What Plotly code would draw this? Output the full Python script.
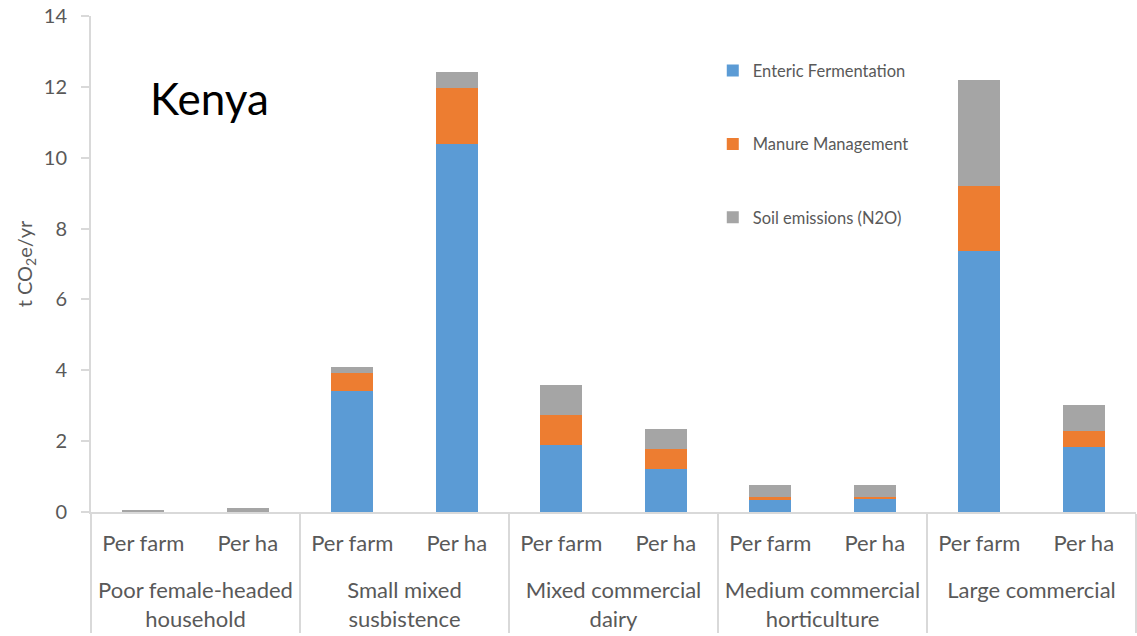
import plotly.graph_objects as go

groups = ["Poor female-headed<br>household", "Small mixed<br>susbistence",
          "Mixed commercial<br>dairy", "Medium commercial<br>horticulture",
          "Large commercial"]
units = ["Per farm", "Per ha"]

enteric = [0.0, 0.0, 3.41, 10.38, 1.88, 1.20, 0.35, 0.37, 7.38, 1.83]
manure = [0.0, 0.0, 0.51, 1.59, 0.85, 0.57, 0.06, 0.06, 1.81, 0.45]
soil = [0.06, 0.12, 0.17, 0.45, 0.85, 0.57, 0.34, 0.32, 3.00, 0.74]

# leading line break pushes the group labels one line lower, as in the reference
x_outer = ["<br>" + g for g in groups for _ in units]
x_inner = [u for _ in groups for u in units]

series = [("Enteric Fermentation", enteric, "#5B9BD5"),
          ("Manure Management", manure, "#ED7D31"),
          ("Soil emissions (N2O)", soil, "#A5A5A5")]

FONT = "Lato"
GREY = "#595959"
LINE = "#D9D9D9"

fig = go.Figure()
for name, vals, col in series:
    fig.add_trace(go.Bar(x=[x_outer, x_inner], y=vals, name=name,
                         marker=dict(color=col, line=dict(width=0)),
                         legendgroup=name))

fig.update_layout(
    width=1137, height=636,
    barmode="stack", bargap=0.6,
    plot_bgcolor="white", paper_bgcolor="white",
    margin=dict(l=91, r=1, t=16, b=124),
    font=dict(family=FONT, size=18, color=GREY),
    showlegend=True,
    legend=dict(x=0.595, y=0.925, xanchor="left", yanchor="top",
                traceorder="grouped", tracegroupgap=49,
                font=dict(family=FONT, size=16.5, color=GREY),
                bgcolor="rgba(0,0,0,0)"),
    xaxis=dict(type="multicategory", showline=True, linecolor=LINE, linewidth=2,
               ticks="", showgrid=False, zeroline=False,
               showdividers=True, dividercolor=LINE, dividerwidth=2,
               tickfont=dict(family=FONT, size=22, color=GREY),
               ticklabelstandoff=11),
    yaxis=dict(range=[0, 14], dtick=2, showgrid=False, zeroline=False,
               showline=True, linecolor=LINE, linewidth=2,
               ticks="outside", ticklen=8, tickcolor=LINE, tickwidth=2,
               ticklabelstandoff=10,
               tickfont=dict(family=FONT, size=20, color=GREY),
               automargin=False,
               title=dict(text="t CO<sub>2</sub>e/yr", standoff=6,
                          font=dict(family=FONT, size=20, color=GREY))),
    yaxis2=dict(range=[0, 14], dtick=2, overlaying="y", side="left",
                showgrid=False, zeroline=False, showline=False,
                ticks="inside", ticklen=8, tickcolor=LINE, tickwidth=2,
                showticklabels=False),
)

fig.add_annotation(text="Kenya", xref="paper", yref="paper", x=0.113, y=0.835,
                   xanchor="center", yanchor="middle", showarrow=False,
                   font=dict(family=FONT, size=44, color="black"))

fig.write_html("out.html")
